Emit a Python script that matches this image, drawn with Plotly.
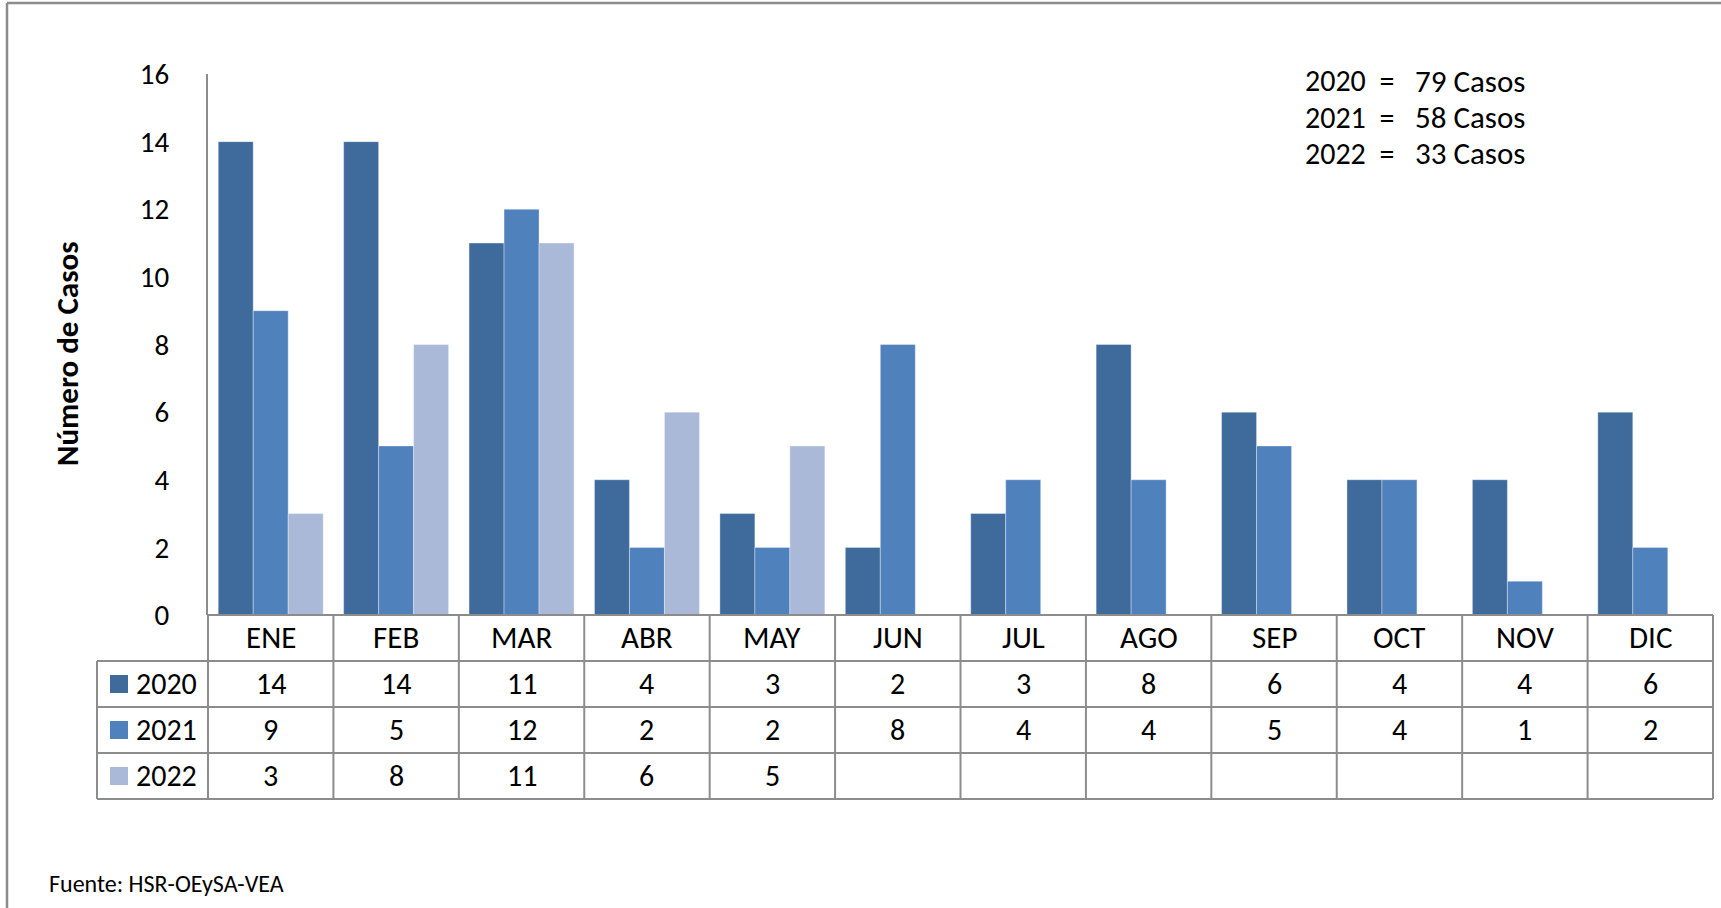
import plotly.graph_objects as go

months = ["ENE", "FEB", "MAR", "ABR", "MAY", "JUN", "JUL", "AGO", "SEP", "OCT", "NOV", "DIC"]
years = ["2020", "2021", "2022"]
cases_2020 = [14, 14, 11, 4, 3, 2, 3, 8, 6, 4, 4, 6]
cases_2021 = [9, 5, 12, 2, 2, 8, 4, 4, 5, 4, 1, 2]
cases_2022 = [3, 8, 11, 6, 5, None, None, None, None, None, None, None]
series = [cases_2020, cases_2021, cases_2022]
colors = ["#3F6A9C", "#4F81BD", "#AAB9D7"]
y_title = "Número de Casos"
source = "Fuente: HSR-OEySA-VEA"

W, H = 1721, 908
def px(x):
    return x / W
def py(y):
    return 1 - y / H

FONT = "Carlito, Calibri, Lato, sans-serif"
GRID = "#8C8C8C"

fig = go.Figure()
for name, vals, col in zip(years, series, colors):
    fig.add_trace(go.Bar(
        x=months, y=vals, name=name,
        marker=dict(color=col, line=dict(color="rgba(255,255,255,0.6)", width=0.6)),
    ))

# plot area pixels
X0, X1 = 208, 1713
Y_TOP, Y0 = 74, 615
rows = [615, 661, 707, 753, 799]
LEG_X = 97

shapes = []
def line(x0, y0, x1, y1, w=2, color=GRID):
    shapes.append(dict(type="line", xref="paper", yref="paper", x0=x0, y0=py(y0), x1=x1, y1=py(y1),
                       line=dict(color=color, width=w), layer="above"))

# outer frame (top and left)
line(px(7), 3, px(W), 3, w=2.5)
line(px(7), 3, px(7), H, w=2.5)

# table horizontal lines
line(px(X0), rows[0], px(X1), rows[0])
for r in rows[1:]:
    line(px(LEG_X), r, px(X1), r)
# vertical lines
line(px(X0), rows[0], px(X0), rows[-1])
line(px(LEG_X), rows[1], px(LEG_X), rows[-1])
for i in range(1, len(months)):
    shapes.append(dict(type="line", xref="x", yref="paper", x0=i - 0.5, x1=i - 0.5,
                       y0=py(rows[0]), y1=py(rows[-1]), line=dict(color=GRID, width=2), layer="above"))
line(px(X1), rows[0], px(X1), rows[-1])

TS = 30
annotations = []
# month labels row
for m in months:
    annotations.append(dict(x=m, xref="x", y=py((rows[0] + rows[1]) / 2 - 1), yref="paper",
                            text=m, showarrow=False, font=dict(size=31, color="black", family=FONT),
                            xanchor="center", yanchor="middle"))
# data rows
for k, (name, vals, col) in enumerate(zip(years, series, colors)):
    yc = (rows[k + 1] + rows[k + 2]) / 2 - 1
    shapes.append(dict(type="rect", xref="paper", yref="paper", x0=px(110), x1=px(128),
                       y0=py(yc - 8), y1=py(yc + 10), fillcolor=col, line=dict(width=0)))
    annotations.append(dict(x=px(134), xref="paper", y=py(yc), yref="paper", text=name,
                            showarrow=False, xanchor="left", yanchor="middle",
                            font=dict(size=TS, color="black", family=FONT)))
    for m, v in zip(months, vals):
        if v is None:
            continue
        annotations.append(dict(x=m, xref="x", y=py(yc), yref="paper", text=str(v),
                                showarrow=False, xanchor="center", yanchor="middle",
                                font=dict(size=TS, color="black", family=FONT)))

# totals box
for k, (name, vals) in enumerate(zip(years, series)):
    total = sum(v for v in vals if v is not None)
    yc = [81, 117, 153][k]
    annotations.append(dict(x=px(1303), xref="paper", y=py(yc), yref="paper", text=f"{name}  =",
                            showarrow=False, xanchor="left", yanchor="middle",
                            font=dict(size=TS, color="black", family=FONT)))
    annotations.append(dict(x=px(1413), xref="paper", y=py(yc), yref="paper", text=f"{total} Casos",
                            showarrow=False, xanchor="left", yanchor="middle",
                            font=dict(size=31, color="black", family=FONT)))

# y title
annotations.append(dict(x=px(67), xref="paper", y=py(354), yref="paper", text=f"<b>{y_title}</b>",
                        textangle=-90, showarrow=False, xanchor="center", yanchor="middle",
                        font=dict(size=31, color="black", family=FONT)))
# source
annotations.append(dict(x=px(47), xref="paper", y=py(883), yref="paper", text=source,
                        showarrow=False, xanchor="left", yanchor="middle",
                        font=dict(size=24, color="black", family=FONT)))

fig.update_layout(
    width=W, height=H, autosize=False,
    margin=dict(l=0, r=0, t=0, b=0, pad=0),
    paper_bgcolor="white", plot_bgcolor="white",
    barmode="group", bargap=0.163, bargroupgap=0,
    showlegend=False,
    shapes=shapes, annotations=annotations,
    xaxis=dict(domain=[px(X0), px(X1)], range=[-0.5, 11.5], showticklabels=False, automargin=False,
               showline=False, showgrid=False, zeroline=False, ticks=""),
    yaxis=dict(domain=[py(Y0), py(Y_TOP)], range=[0, 16], dtick=2, tick0=0, automargin=False,
               showline=True, linecolor=GRID, linewidth=2, showgrid=False, zeroline=False,
               ticks="", ticklabelstandoff=31,
               tickfont=dict(size=29, color="black", family=FONT)),
)

fig.write_html("out.html", config={"displayModeBar": False},
               post_script="document.body.style.margin='0';document.body.style.overflow='hidden';")
